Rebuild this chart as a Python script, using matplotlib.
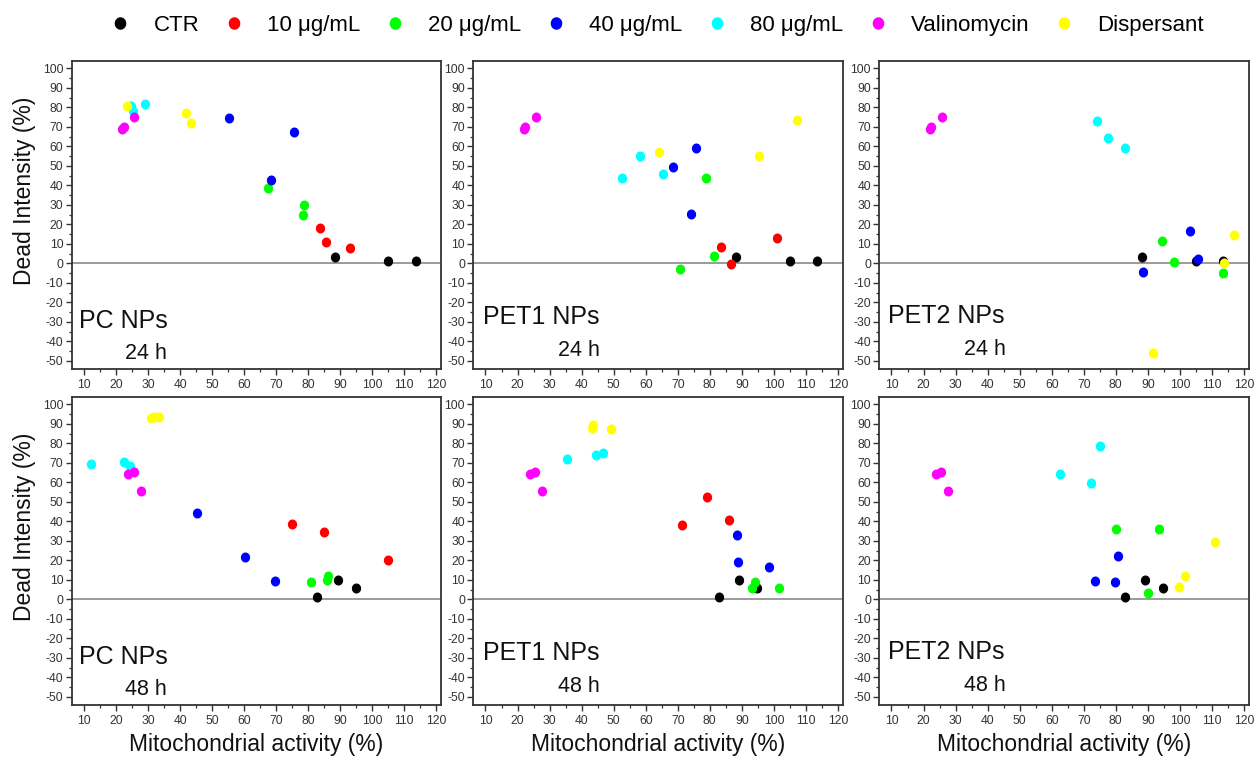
import numpy as np
import matplotlib
matplotlib.use("Agg")
import matplotlib.pyplot as plt
from matplotlib.path import Path
from matplotlib.lines import Line2D
from matplotlib.ticker import MultipleLocator, FixedLocator
from matplotlib import font_manager

plt.rcParams['font.family'] = ['Liberation Sans', 'DejaVu Sans']

# ---- categories -------------------------------------------------------------
groups = ["CTR", "10 μg/mL", "20 μg/mL", "40 μg/mL", "80 μg/mL", "Valinomycin", "Dispersant"]
group_colors = ["#000000", "#ff0000", "#00ff00", "#0000ff", "#00ffff", "#ff00ff", "#ffff00"]
particles = ["PC NPs", "PET1 NPs", "PET2 NPs"]
times = ["24 h", "48 h"]

x_ticks = list(range(10, 121, 10))
y_ticks = list(range(-50, 101, 10))

# ---- controls shared by every particle type ----------------------------------
ctr_24h_x = [88.3, 104.9, 113.6]
ctr_24h_y = [3.4, 1.1, 1.2]
val_24h_x = [22.0, 22.4, 25.7]
val_24h_y = [69.2, 70.0, 74.9]

ctr_48h_x = [82.8, 89.2, 94.8]
ctr_48h_y = [1.4, 9.8, 5.7]
val_48h_x = [23.9, 25.6, 27.7]
val_48h_y = [64.6, 65.3, 55.5]

# ---- PC NPs, 24 h ------------------------------------------------------------
pc24_c10_x = [83.6, 85.7, 93.1]
pc24_c10_y = [18.0, 10.8, 7.9]
pc24_c20_x = [67.4, 78.7, 78.5]
pc24_c20_y = [38.8, 30.1, 24.9]
pc24_c40_x = [55.3, 75.6, 68.5]
pc24_c40_y = [74.4, 67.2, 43.0]
pc24_c80_x = [24.6, 25.2, 29.2]
pc24_c80_y = [80.6, 78.0, 81.8]
pc24_disp_x = [23.5, 41.8, 43.3]
pc24_disp_y = [80.6, 77.1, 71.8]

# ---- PET1 NPs, 24 h ----------------------------------------------------------
pet1_24_c10_x = [83.5, 86.6, 101.1]
pet1_24_c10_y = [8.2, -0.3, 13.1]
pet1_24_c20_x = [78.9, 70.8, 81.3]
pet1_24_c20_y = [44.0, -3.1, 4.0]
pet1_24_c40_x = [75.8, 68.6, 74.2]
pet1_24_c40_y = [59.1, 49.3, 25.4]
pet1_24_c80_x = [52.5, 58.3, 65.5]
pet1_24_c80_y = [43.8, 55.3, 45.9]
pet1_24_disp_x = [64.1, 95.4, 107.1]
pet1_24_disp_y = [57.2, 55.0, 73.4]

# ---- PET2 NPs, 24 h ----------------------------------------------------------
pet2_24_c10_x = []
pet2_24_c10_y = []
pet2_24_c20_x = [94.3, 98.1, 113.3]
pet2_24_c20_y = [11.5, 0.5, -5.0]
pet2_24_c40_x = [88.6, 103.1, 105.6]
pet2_24_c40_y = [-4.5, 16.7, 2.2]
pet2_24_c80_x = [74.1, 77.7, 82.9]
pet2_24_c80_y = [73.2, 64.1, 59.3]
pet2_24_disp_x = [91.6, 113.9, 116.8]
pet2_24_disp_y = [-46.0, 0.3, 14.4]

# ---- PC NPs, 48 h ------------------------------------------------------------
pc48_c10_x = [74.9, 84.8, 104.9]
pc48_c10_y = [38.7, 34.8, 20.3]
pc48_c20_x = [80.9, 85.9, 86.3]
pc48_c20_y = [8.7, 10.1, 12.1]
pc48_c40_x = [45.4, 60.3, 69.5]
pc48_c40_y = [44.5, 21.6, 9.5]
pc48_c80_x = [12.2, 22.5, 24.3]
pc48_c80_y = [69.3, 70.4, 68.5]
pc48_disp_x = [31.0, 31.8, 33.5]
pc48_disp_y = [93.0, 93.4, 93.7]

# ---- PET1 NPs, 48 h ----------------------------------------------------------
pet1_48_c10_x = [71.3, 79.0, 86.1]
pet1_48_c10_y = [38.3, 52.7, 40.8]
pet1_48_c20_x = [93.3, 94.2, 101.7]
pet1_48_c20_y = [6.1, 8.7, 5.8]
pet1_48_c40_x = [88.6, 88.9, 98.5]
pet1_48_c40_y = [32.8, 19.4, 16.8]
pet1_48_c80_x = [35.3, 44.5, 46.7]
pet1_48_c80_y = [72.1, 74.0, 75.0]
pet1_48_disp_x = [43.2, 43.6, 49.3]
pet1_48_disp_y = [88.1, 89.5, 87.4]

# ---- PET2 NPs, 48 h ----------------------------------------------------------
pet2_48_c10_x = []
pet2_48_c10_y = []
pet2_48_c20_x = [80.2, 93.4, 90.1]
pet2_48_c20_y = [35.9, 36.2, 3.4]
pet2_48_c40_x = [80.6, 73.6, 79.6]
pet2_48_c40_y = [22.4, 9.7, 9.0]
pet2_48_c80_x = [62.7, 72.2, 75.0]
pet2_48_c80_y = [64.5, 59.5, 78.7]
pet2_48_disp_x = [110.9, 101.5, 99.6]
pet2_48_disp_y = [29.3, 12.2, 6.5]

# series per panel, in legend order
panels = {
    (0, 0): [(ctr_24h_x, ctr_24h_y), (pc24_c10_x, pc24_c10_y), (pc24_c20_x, pc24_c20_y),
             (pc24_c40_x, pc24_c40_y), (pc24_c80_x, pc24_c80_y), (val_24h_x, val_24h_y),
             (pc24_disp_x, pc24_disp_y)],
    (0, 1): [(ctr_24h_x, ctr_24h_y), (pet1_24_c10_x, pet1_24_c10_y), (pet1_24_c20_x, pet1_24_c20_y),
             (pet1_24_c40_x, pet1_24_c40_y), (pet1_24_c80_x, pet1_24_c80_y), (val_24h_x, val_24h_y),
             (pet1_24_disp_x, pet1_24_disp_y)],
    (0, 2): [(ctr_24h_x, ctr_24h_y), (pet2_24_c10_x, pet2_24_c10_y), (pet2_24_c20_x, pet2_24_c20_y),
             (pet2_24_c40_x, pet2_24_c40_y), (pet2_24_c80_x, pet2_24_c80_y), (val_24h_x, val_24h_y),
             (pet2_24_disp_x, pet2_24_disp_y)],
    (1, 0): [(ctr_48h_x, ctr_48h_y), (pc48_c10_x, pc48_c10_y), (pc48_c20_x, pc48_c20_y),
             (pc48_c40_x, pc48_c40_y), (pc48_c80_x, pc48_c80_y), (val_48h_x, val_48h_y),
             (pc48_disp_x, pc48_disp_y)],
    (1, 1): [(ctr_48h_x, ctr_48h_y), (pet1_48_c10_x, pet1_48_c10_y), (pet1_48_c20_x, pet1_48_c20_y),
             (pet1_48_c40_x, pet1_48_c40_y), (pet1_48_c80_x, pet1_48_c80_y), (val_48h_x, val_48h_y),
             (pet1_48_disp_x, pet1_48_disp_y)],
    (1, 2): [(ctr_48h_x, ctr_48h_y), (pet2_48_c10_x, pet2_48_c10_y), (pet2_48_c20_x, pet2_48_c20_y),
             (pet2_48_c40_x, pet2_48_c40_y), (pet2_48_c80_x, pet2_48_c80_y), (val_48h_x, val_48h_y),
             (pet2_48_disp_x, pet2_48_disp_y)],
}

# slightly tall oval dot
theta = np.linspace(0, 2 * np.pi, 60)
oval = Path(np.column_stack([np.cos(theta), 1.08 * np.sin(theta)]), closed=True)

# narrow face for the time labels when available
installed = {f.name for f in font_manager.fontManager.ttflist}
if "Liberation Sans Narrow" in installed:
    time_font = dict(family=["Liberation Sans Narrow", "DejaVu Sans"], fontsize=18.5)
else:
    time_font = dict(family=["Liberation Sans", "DejaVu Sans"], fontsize=15.5)

W, H = 1257, 763
fig = plt.figure(figsize=(W / 100, H / 100), dpi=100)

col_left_px = [71.7, 473.3, 879.3]
row_top_px = [60.7, 396.7]
ax_w_px, ax_h_px = 369.5, 308.0

name_pos = [(0.020, 0.132), (0.026, 0.145), (0.024, 0.148)]
time_pos = [(0.258, 0.030), (0.343, 0.042), (0.343, 0.044)]

spine_color = "#333333"
for r in range(2):
    for c in range(3):
        left = col_left_px[c] / W
        bottom = 1 - (row_top_px[r] + ax_h_px) / H
        ax = fig.add_axes([left, bottom, ax_w_px / W, ax_h_px / H])

        ax.axhline(0, color="#8a8a8a", lw=1.2, zorder=1)
        for (xs, ys), color in zip(panels[(r, c)], group_colors):
            ax.scatter(xs, ys, s=52, marker=oval, color=color, linewidths=0, zorder=3)

        ax.set_xlim(6.2, 121.5)
        ax.set_ylim(-54, 104)
        ax.xaxis.set_major_locator(FixedLocator(x_ticks))
        ax.yaxis.set_major_locator(FixedLocator(y_ticks))
        ax.xaxis.set_minor_locator(MultipleLocator(5))
        ax.yaxis.set_minor_locator(MultipleLocator(5))
        ax.set_xticklabels([str(v) for v in x_ticks])
        ax.set_yticklabels([str(v) for v in y_ticks])
        ax.tick_params(which="major", direction="out", length=4.5, width=1.0,
                       color=spine_color, labelsize=8.7, labelcolor="#333333")
        ax.tick_params(which="minor", direction="out", length=2.3, width=0.9, color=spine_color)
        ax.tick_params(axis="y", which="major", pad=1.5)
        ax.tick_params(axis="x", which="major", pad=3)
        for sp in ax.spines.values():
            sp.set_color(spine_color)
            sp.set_linewidth(1.3)

        ax.text(name_pos[c][0], name_pos[c][1], particles[c], transform=ax.transAxes,
                fontsize=18, ha="left", va="baseline", color="#111111")
        ax.text(time_pos[c][0], time_pos[c][1], times[r], transform=ax.transAxes,
                ha="right", va="baseline", color="#111111", **time_font)

        if c == 0:
            ax.set_ylabel("Dead Intensity (%)", fontsize=16.5, color="#111111")
            ax.yaxis.set_label_coords(-0.1265, 0.577)
            ax.yaxis.label.set_va("center")
        if r == 1:
            ax.set_xlabel("Mitochondrial activity (%)", fontsize=16.5, color="#111111")
            ax.xaxis.set_label_coords(0.5, -0.13)
            ax.xaxis.label.set_va("center")

handles = [Line2D([], [], ls="none", marker=oval, markersize=9.0, markerfacecolor=col,
                  markeredgewidth=0) for col in group_colors]
fig.legend(handles, groups, loc="center", bbox_to_anchor=(0.5223, 0.967), ncol=7,
           frameon=False, fontsize=16, handlelength=1.0, handletextpad=1.0,
           columnspacing=1.05, borderpad=0, borderaxespad=0)

fig.savefig("out.png", dpi=100)
